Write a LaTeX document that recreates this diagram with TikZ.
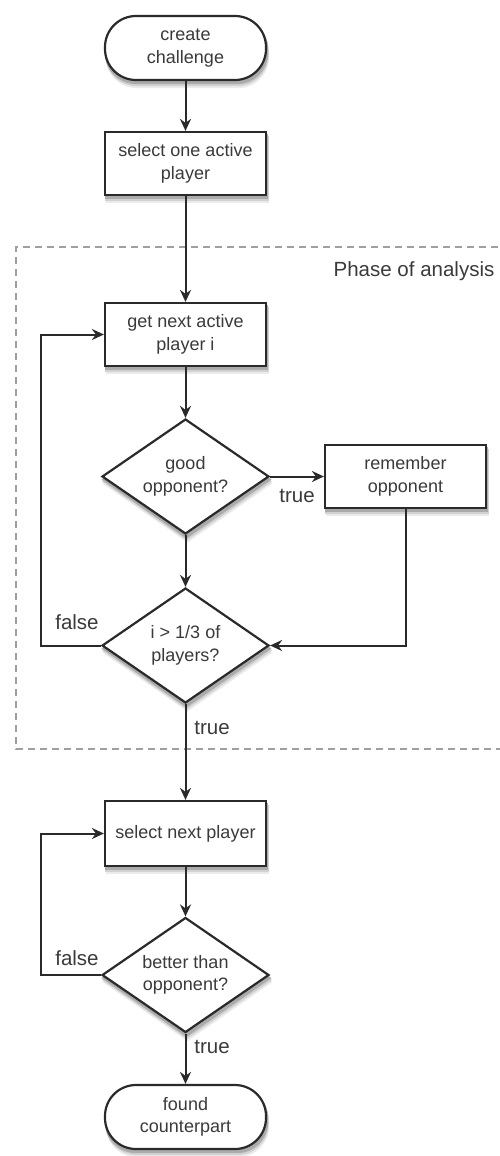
\documentclass[tikz,border=0pt]{standalone}
\usepackage{fontspec}
\setmainfont{Liberation Sans}
\usetikzlibrary{shapes.geometric,arrows.meta}
\definecolor{ln}{HTML}{2A2A2A}
\definecolor{tx}{HTML}{3A3A3A}
\definecolor{sha}{HTML}{EBEBEB}
\definecolor{shb}{HTML}{D2D2D2}
\definecolor{shc}{HTML}{ABABAB}
\tikzset{
  procbox/.style={draw=ln,line width=2.2pt,fill=white,minimum width=161pt,minimum height=63pt,inner sep=0pt,align=center,font=\fontsize{18}{22.5}\selectfont,text=tx},
  termbox/.style={procbox,rounded corners=31pt,minimum height=64pt},
  decbox/.style={draw=ln,line width=2.2pt,fill=white,diamond,aspect=1.45,minimum width=167pt,minimum height=115pt,inner sep=0pt,align=center,font=\fontsize{18}{22.5}\selectfont,text=tx},
  conn/.style={draw=ln,line width=2pt,-{Stealth[length=12pt,width=11pt,inset=4pt]}},
  lbl/.style={font=\fontsize{20.5}{24}\selectfont,text=tx,inner sep=0pt},
}
% soft shadows drawn as plain shapes: centre x, centre y, half width, half height, corner radius
\newcommand\myrectsh[5]{%
  \begin{scope}[shift={(#1,#2)}]
  \fill[sha,rounded corners=#5] ({-#3+2},{-#4-7}) rectangle ({#3+2},{#4-7});
  \fill[shb,rounded corners=#5] ({-#3+1.5},{-#4-5}) rectangle ({#3+1.5},{#4-5});
  \fill[shc,rounded corners=#5] ({-#3+1},{-#4-3}) rectangle ({#3+1},{#4-3});
  \end{scope}}
\newcommand\mydiash[4]{%
  \begin{scope}[shift={(#1,#2)}]
  \fill[sha] (2,{#4-7}) -- ({#3+2},-7) -- (2,{-#4-7}) -- ({-#3+2},-7) -- cycle;
  \fill[shb] (1.5,{#4-5}) -- ({#3+1.5},-5) -- (1.5,{-#4-5}) -- ({-#3+1.5},-5) -- cycle;
  \fill[shc] (1,{#4-3}) -- ({#3+1},-3) -- (1,{-#4-3}) -- ({-#3+1},-3) -- cycle;
  \end{scope}}
\begin{document}
\begin{tikzpicture}[x=1pt,y=1pt]
\useasboundingbox (0,0) rectangle (499,-1156);
% phase region
\draw[draw=gray!75,line width=1.8pt,dash pattern=on 7pt off 5pt] (510,-247) -- (16,-247) -- (16,-749) -- (510,-749);
\node[lbl] (phase) at (414,-271) {Phase of analysis};
% shadows
\myrectsh{185.5}{-48}{81.6}{33.1}{31}
\myrectsh{185.5}{-163.5}{81.6}{32.6}{0}
\myrectsh{185.5}{-334.5}{81.6}{32.6}{0}
\myrectsh{405.5}{-476.5}{81.6}{32.6}{0}
\myrectsh{185.5}{-833.5}{81.6}{33.6}{0}
\myrectsh{185.5}{-1117}{81.6}{33.1}{31}
\mydiash{185.5}{-476.5}{85}{59}
\mydiash{185.5}{-645.5}{85}{59}
\mydiash{185.5}{-975}{85}{59}
% nodes
\node[termbox] (start) at (185.5,-48) {create\\challenge};
\node[procbox] (sel1) at (185.5,-163.5) {select one active\\player};
\node[procbox] (getnext) at (185.5,-334.5) {get next active\\player i};
\node[decbox] (good) at (185.5,-476.5) {good\\opponent?};
\node[procbox] (remember) at (405.5,-476.5) {remember\\opponent};
\node[decbox] (cond) at (185.5,-645.5) {i > 1/3 of\\players?};
\node[procbox,minimum height=65pt] (selnext) at (185.5,-833.5) {select next player};
\node[decbox] (better) at (185.5,-975) {better than\\opponent?};
\node[termbox] (found) at (185.5,-1117) {found\\counterpart};
% connectors
\draw[conn] (start) -- (sel1);
\draw[conn] (sel1) -- (getnext);
\draw[conn] (getnext) -- (good);
\draw[conn] (good.east) -- (remember.west);
\draw[conn] (good) -- (cond);
\draw[conn] (remember.south) |- (cond.east);
\coordinate (l1) at (41,-645.5);
\coordinate (l2) at (41,-334.5);
\draw[conn] (cond.west) -- (l1) -- (l2) -- (getnext.west);
\draw[conn] (cond) -- (selnext);
\draw[conn] (selnext) -- (better);
\coordinate (l3) at (41,-975);
\coordinate (l4) at (41,-833.5);
\draw[conn] (better.west) -- (l3) -- (l4) -- (selnext.west);
\draw[conn] (better) -- (found);
% labels
\node[lbl] (t1) at (297,-496) {true};
\node[lbl] (f1) at (77,-622) {false};
\node[lbl] (t2) at (212,-728) {true};
\node[lbl] (f2) at (77,-958) {false};
\node[lbl] (t3) at (212,-1047) {true};
\end{tikzpicture}
\end{document}
